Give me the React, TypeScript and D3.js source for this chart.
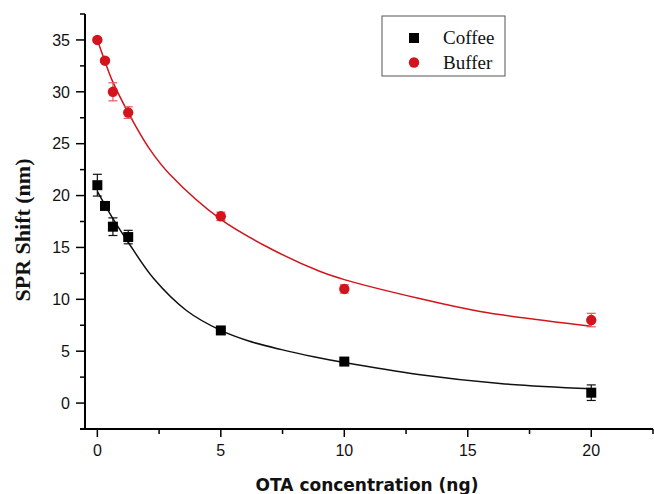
import React from "react";
import * as d3 from "d3";

const conc = [0, 0.31, 0.63, 1.25, 5, 10, 20];
const coffee = [21, 19, 17, 16, 7, 4, 1];
const coffeeErr = [1.05, 0.3, 0.85, 0.65, 0.2, 0.2, 0.75];
const buffer = [35, 33, 30, 28, 18, 11, 8];
const bufferErr = [0, 0.2, 0.87, 0.56, 0.4, 0.4, 0.65];

// fitted curves
const coffeeFitX = [0, 0.6, 1.25, 2.28, 3.62, 5, 6.1, 7.46, 8.81, 10, 13, 16.3, 20];
const coffeeFitY = [20.4, 17.9, 15.5, 12.0, 8.9, 7.0, 6.0, 5.15, 4.44, 3.9, 2.75, 1.88, 1.37];
const bufferFitX = [0, 0.3, 0.6, 1.25, 2.14, 2.95, 5, 7, 9, 10, 13, 15.5, 20];
const bufferFitY = [35, 33, 31.1, 28, 24.4, 22, 17.7, 14.9, 12.7, 11.9, 10.1, 8.83, 7.4];

const xMajor = [0, 5, 10, 15, 20];
const xMinor = [2.5, 7.5, 12.5, 17.5, 22.5];
const yMajor = [0, 5, 10, 15, 20, 25, 30, 35];
const yMinor = [2.5, 7.5, 12.5, 17.5, 22.5, 27.5, 32.5, 37.5];

const W = 654;
const H = 494;
const RED = "#d4141c";
const RED_ERR = "#e35a5f";

export default function App() {
  const x = d3.scaleLinear().domain([-0.5, 22.5]).range([85, 653]);
  const y = d3.scaleLinear().domain([-2.5, 37.5]).range([429, 14]);

  const line = d3
    .line<[number, number]>()
    .x((d) => x(d[0]))
    .y((d) => y(d[1]))
    .curve(d3.curveCatmullRom.alpha(0.5));

  const coffeeFit = coffeeFitX.map((v, i) => [v, coffeeFitY[i]] as [number, number]);
  const bufferFit = bufferFitX.map((v, i) => [v, bufferFitY[i]] as [number, number]);

  const errBar = (xv: number, yv: number, e: number, color: string, key: string) => {
    if (e <= 0) return null;
    const cx = x(xv);
    const y1 = y(yv + e);
    const y2 = y(yv - e);
    return (
      <g key={key} stroke={color} strokeWidth={1.2}>
        <line x1={cx} x2={cx} y1={y1} y2={y2} />
        <line x1={cx - 4.5} x2={cx + 4.5} y1={y1} y2={y1} />
        <line x1={cx - 4.5} x2={cx + 4.5} y1={y2} y2={y2} />
      </g>
    );
  };

  const tickFont = "Liberation Sans, Arial, sans-serif";

  return (
    <svg
      width={W}
      height={H}
      style={{ position: "absolute", left: 0, top: 0, background: "#fff" }}
    >
      {/* fit curves */}
      <path d={line(bufferFit) || ""} fill="none" stroke={RED} strokeWidth={1.5} />
      <path d={line(coffeeFit) || ""} fill="none" stroke="#111" strokeWidth={1.5} />

      {/* error bars */}
      {conc.map((c, i) => errBar(c, buffer[i], bufferErr[i], RED_ERR, "be" + i))}
      {conc.map((c, i) => errBar(c, coffee[i], coffeeErr[i], "#111", "ce" + i))}

      {/* markers */}
      {conc.map((c, i) => (
        <circle key={"b" + i} cx={x(c)} cy={y(buffer[i])} r={5.2} fill={RED} />
      ))}
      {conc.map((c, i) => (
        <rect
          key={"c" + i}
          x={x(c) - 5}
          y={y(coffee[i]) - 5}
          width={10}
          height={10}
          fill="#000"
        />
      ))}

      {/* axes */}
      <g stroke="#000">
        <line x1={x(-0.5)} x2={x(-0.5)} y1={y(37.5)} y2={y(-2.5) + 1} strokeWidth={2} />
        <line x1={x(-0.5) - 5} x2={x(22.5)} y1={y(-2.5)} y2={y(-2.5)} strokeWidth={2} />
        {yMajor.map((v) => (
          <line key={"ym" + v} x1={x(-0.5) - 9} x2={x(-0.5)} y1={y(v)} y2={y(v)} strokeWidth={1.5} />
        ))}
        {yMinor.map((v) => (
          <line key={"yn" + v} x1={x(-0.5) - 5} x2={x(-0.5)} y1={y(v)} y2={y(v)} strokeWidth={1.5} />
        ))}
        {xMajor.map((v) => (
          <line key={"xm" + v} x1={x(v)} x2={x(v)} y1={y(-2.5)} y2={y(-2.5) + 8} strokeWidth={1.5} />
        ))}
        {xMinor.map((v) => (
          <line key={"xn" + v} x1={x(v)} x2={x(v)} y1={y(-2.5)} y2={y(-2.5) + 5} strokeWidth={1.5} />
        ))}
      </g>

      {yMajor.map((v) => (
        <text
          key={"yl" + v}
          x={x(-0.5) - 15}
          y={y(v)}
          dy="0.36em"
          textAnchor="end"
          fontFamily={tickFont}
          fontSize={16}
          fill="#111"
        >
          {v}
        </text>
      ))}
      {xMajor.map((v) => (
        <text
          key={"xl" + v}
          x={x(v)}
          y={456}
          textAnchor="middle"
          fontFamily={tickFont}
          fontSize={16}
          fill="#111"
        >
          {v}
        </text>
      ))}

      {/* axis titles */}
      <text
        transform="translate(30,230) rotate(-90)"
        textAnchor="middle"
        fontFamily="Liberation Serif, Times New Roman, serif"
        fontWeight="bold"
        fontSize={22}
        fill="#111"
      >
        SPR Shift (nm)
      </text>
      <text
        x={367}
        y={491}
        textAnchor="middle"
        fontFamily="DejaVu Sans, Verdana, sans-serif"
        fontWeight="bold"
        fontSize={17}
        fill="#111"
      >
        OTA concentration (ng)
      </text>

      {/* legend */}
      <rect x={382} y={16} width={123} height={60} fill="#fff" stroke="#555" strokeWidth={1} />
      <rect x={409} y={33} width={10} height={10} fill="#000" />
      <circle cx={414} cy={62.5} r={5.2} fill={RED} />
      <text x={443} y={44} fontFamily="Liberation Serif, Times New Roman, serif" fontSize={19} fill="#111">
        Coffee
      </text>
      <text x={443} y={69} fontFamily="Liberation Serif, Times New Roman, serif" fontSize={19} fill="#111">
        Buffer
      </text>
    </svg>
  );
}
